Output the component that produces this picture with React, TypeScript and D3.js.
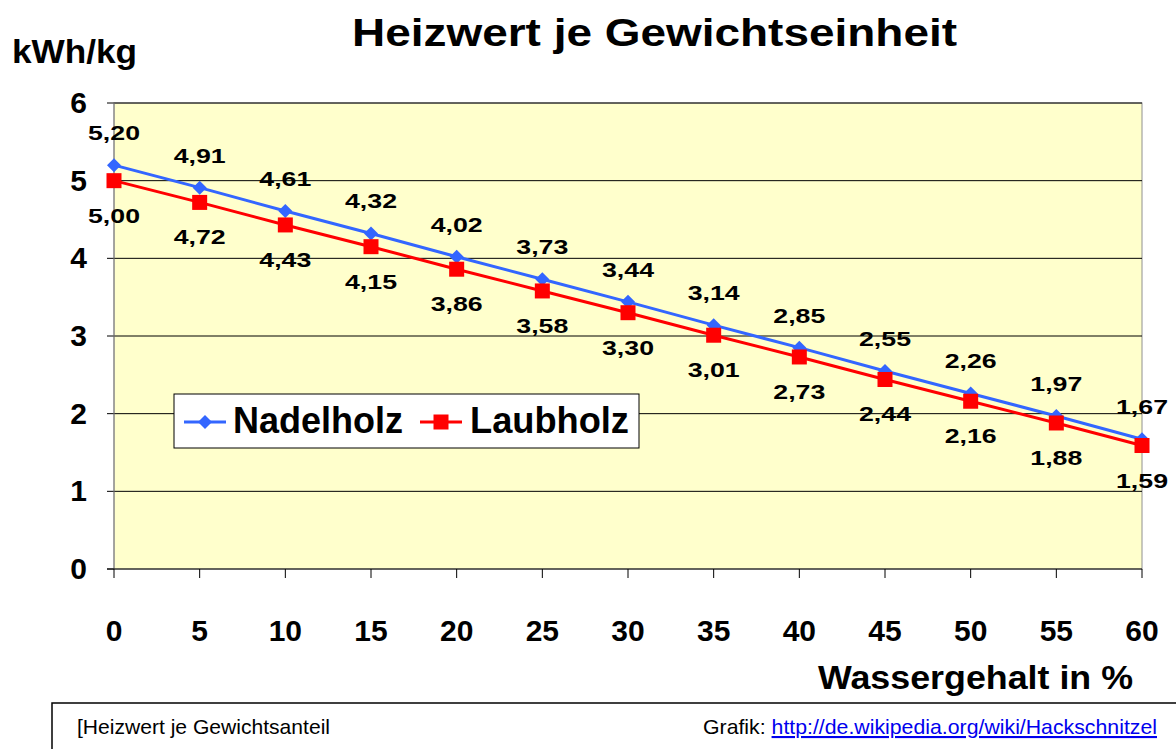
import * as d3 from 'd3';

const waterContent = [0, 5, 10, 15, 20, 25, 30, 35, 40, 45, 50, 55, 60];
const nadelholz = [5.2, 4.91, 4.61, 4.32, 4.02, 3.73, 3.44, 3.14, 2.85, 2.55, 2.26, 1.97, 1.67];
const laubholz = [5.0, 4.72, 4.43, 4.15, 3.86, 3.58, 3.3, 3.01, 2.73, 2.44, 2.16, 1.88, 1.59];
const yTicks = [0, 1, 2, 3, 4, 5, 6];
const seriesNames = ['Nadelholz', 'Laubholz'];

const W = 1176;
const H = 749;
const font = '"Liberation Sans", Arial, sans-serif';
const blue = '#3366ff';
const red = '#ff0000';

const diamond = 'M0,-7L7,0L0,7L-7,0Z';

const App = () => {
  const x = d3.scaleLinear().domain([0, 60]).range([114, 1142]);
  const y = d3.scaleLinear().domain([0, 6]).range([569, 103]);
  const fmt = (v: number) => v.toFixed(2).replace('.', ',');

  const line = d3
    .line<number>()
    .x((_, i) => x(waterContent[i]))
    .y(d => y(d));

  return (
    <svg
      width={W}
      height={H}
      style={{ position: 'absolute', left: 0, top: 0, background: '#fff' }}
      fontFamily={font}
    >
      <text x={352} y={46} fontSize={38} fontWeight="bold" textLength={605} lengthAdjust="spacingAndGlyphs">
        Heizwert je Gewichtseinheit
      </text>
      <text x={12} y={63} fontSize={34} fontWeight="bold" textLength={125} lengthAdjust="spacingAndGlyphs">
        kWh/kg
      </text>

      {/* plot area */}
      <rect x={x(0)} y={y(6)} width={x(60) - x(0)} height={y(0) - y(6)} fill="#ffffcc" stroke="#909090" />
      {yTicks.map(t => (
        <g key={t}>
          {t > 0 && <line x1={x(0)} x2={x(60)} y1={y(t)} y2={y(t)} stroke="#000" strokeWidth={1} />}
          <line x1={x(0) - 7} x2={x(0)} y1={y(t)} y2={y(t)} stroke="#000" />
          <text x={87} y={y(t) + 10} textAnchor="end" fontSize={30} fontWeight="bold">
            {t}
          </text>
        </g>
      ))}
      <line x1={x(0)} x2={x(0)} y1={y(6)} y2={y(0)} stroke="#808080" />
      <line x1={x(0) - 7} x2={x(60)} y1={y(0)} y2={y(0)} stroke="#000" />
      {waterContent.map(v => (
        <g key={v}>
          <line x1={x(v)} x2={x(v)} y1={y(0)} y2={y(0) + 9} stroke="#000" />
          <text x={x(v)} y={641} textAnchor="middle" fontSize={30} fontWeight="bold">
            {v}
          </text>
        </g>
      ))}

      {/* series */}
      <path d={line(laubholz)!} fill="none" stroke={red} strokeWidth={3} />
      <path d={line(nadelholz)!} fill="none" stroke={blue} strokeWidth={3} />
      {nadelholz.map((d, i) => (
        <path key={'n' + i} d={diamond} transform={`translate(${x(waterContent[i])},${y(d)})`} fill={blue} />
      ))}
      {laubholz.map((d, i) => (
        <rect key={'l' + i} x={x(waterContent[i]) - 7.5} y={y(d) - 7.5} width={15} height={15} fill={red} />
      ))}
      {nadelholz.map((d, i) => (
        <text
          key={'nl' + i}
          x={x(waterContent[i]) - 26}
          y={y(d) - 25}
          fontSize={21}
          fontWeight="bold"
          textLength={52}
          lengthAdjust="spacingAndGlyphs"
        >
          {fmt(d)}
        </text>
      ))}
      {laubholz.map((d, i) => (
        <text
          key={'ll' + i}
          x={x(waterContent[i]) - 26}
          y={y(d) + 42}
          fontSize={21}
          fontWeight="bold"
          textLength={52}
          lengthAdjust="spacingAndGlyphs"
        >
          {fmt(d)}
        </text>
      ))}

      {/* legend */}
      <g>
        <rect x={174} y={394} width={465} height={54} fill="#fff" stroke="#000" />
        <line x1={184} x2={226} y1={422} y2={422} stroke={blue} strokeWidth={3} />
        <path d={diamond} transform="translate(205,422)" fill={blue} />
        <text x={233} y={433} fontSize={36} fontWeight="bold" textLength={170} lengthAdjust="spacingAndGlyphs">
          {seriesNames[0]}
        </text>
        <line x1={420} x2={462} y1={422} y2={422} stroke={red} strokeWidth={3} />
        <rect x={433.5} y={414.5} width={15} height={15} fill={red} />
        <text x={470} y={433} fontSize={36} fontWeight="bold" textLength={159} lengthAdjust="spacingAndGlyphs">
          {seriesNames[1]}
        </text>
      </g>

      <text x={818} y={689} fontSize={33} fontWeight="bold" textLength={315} lengthAdjust="spacingAndGlyphs">
        Wassergehalt in %
      </text>

      {/* caption box */}
      <rect x={52} y={703} width={1140} height={60} fill="none" stroke="#000" strokeWidth={1.5} />
      <text x={77} y={734} fontSize={21} textLength={253} lengthAdjust="spacingAndGlyphs">
        [Heizwert je Gewichtsanteil
      </text>
      <text x={703} y={734} fontSize={21} textLength={454} lengthAdjust="spacingAndGlyphs">
        Grafik:{' '}
        <tspan fill="#0000ee" textDecoration="underline">
          http://de.wikipedia.org/wiki/Hackschnitzel
        </tspan>
      </text>
    </svg>
  );
};

export default App;
